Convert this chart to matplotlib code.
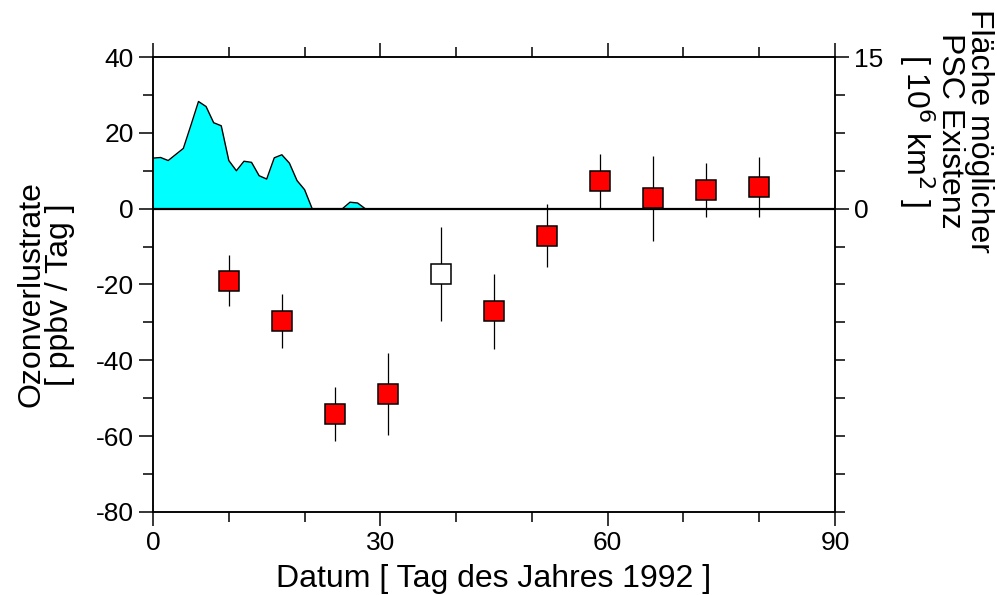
import matplotlib
matplotlib.use('Agg')
import matplotlib.pyplot as plt
import numpy as np

plt.rcParams['font.family'] = ['Liberation Sans', 'DejaVu Sans']
plt.rcParams['axes.unicode_minus'] = False

# PSC-Flaeche (10^6 km^2), taeglich ab Tag 0
psc_tage = list(range(0, 29))
psc_flaeche = [5.0, 5.06, 4.76, 5.36, 5.96, 8.25, 10.6, 10.1, 8.5, 8.2,
               4.76, 3.75, 4.69, 4.58, 3.26, 2.93, 5.03, 5.33, 4.5, 2.78,
               1.88, 0.0, 0.0, 0.0, 0.0, 0.0, 0.64, 0.56, 0.0]

# Ozonverlustraten (ppbv / Tag)
tage = [10, 17, 24, 31, 38, 45, 52, 59, 66, 73, 80]
rate = [-19.0, -29.7, -54.2, -48.9, -17.2, -27.1, -7.1, 7.4, 2.7, 4.9, 5.7]
fehler = [6.8, 7.1, 7.2, 10.9, 12.4, 10.0, 8.3, 7.1, 11.3, 7.2, 8.0]
gefuellt = [True, True, True, True, False, True, True, True, True, True, True]

fig = plt.figure(figsize=(9.97, 5.95), dpi=100)
ax = fig.add_axes([0.1535, 0.1395, 0.684, 0.7647])
ax2 = ax.twinx()

# PSC area on right axis
ax2.fill_between(psc_tage, 0, psc_flaeche, color='#00FFFF', lw=0, zorder=1)
ax2.plot(psc_tage, psc_flaeche, color='black', lw=1.0, zorder=2)
ax2.set_ylim(-30, 15)

ax.set_zorder(ax2.get_zorder() + 1)
ax.patch.set_visible(False)

ax.axhline(0, color='black', lw=1.6, zorder=3)
for t, r, f, g in zip(tage, rate, fehler, gefuellt):
    ax.errorbar(t, r, yerr=f, fmt='none', ecolor='black', elinewidth=0.9,
                capsize=0, zorder=4)
    ax.plot(t, r, 's', ms=13.7, mfc='red' if g else 'white', mec='black',
            mew=1.1, zorder=5)

ax.set_xlim(0, 90)
ax.set_ylim(-80, 40)
ax.set_xticks([0, 30, 60, 90])
ax.set_xticks(np.arange(0, 91, 10), minor=True)
ax.set_yticks(np.arange(-80, 41, 20))
ax.set_yticks(np.arange(-80, 41, 10), minor=True)

ax2.set_yticks([0, 15])
ax2.set_yticks(np.arange(-30, 15.1, 3.75), minor=True)

for a in (ax, ax2):
    for s in a.spines.values():
        s.set_linewidth(1.1)
ax.tick_params(which='major', direction='out', length=10, width=1.1,
               labelsize=19, top=True, pad=4)
ax.tick_params(which='minor', direction='out', length=7, width=1.1, top=True)
ax2.tick_params(which='major', direction='out', length=10, width=1.1,
                labelsize=19, pad=4)
ax2.tick_params(which='minor', direction='out', length=7, width=1.1)

ax.set_xlabel('Datum [ Tag des Jahres 1992 ]', fontsize=23, labelpad=6)
fig.text(0.046, 0.505, 'Ozonverlustrate\n[ ppbv / Tag ]', rotation=90,
         ha='center', va='center', fontsize=23, multialignment='center',
         linespacing=0.95)

fig.text(0.948, 0.78, 'Fläche möglicher\nPSC Existenz\n[ 10$^6$ km$^2$ ]',
         rotation=270, ha='center', va='center', fontsize=23,
         multialignment='center', linespacing=0.95)

fig.savefig('out.png', dpi=100)
